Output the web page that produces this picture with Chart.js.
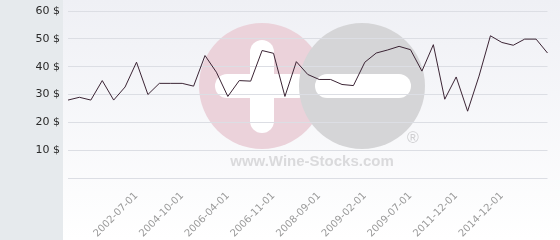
<!DOCTYPE html>
<html>
<head>
<meta charset="utf-8">
<script src="https://cdn.jsdelivr.net/npm/chart.js@4"></script>
<style>
  html, body { margin: 0; padding: 0; background: #fff; }
  #priceChart { display: block; }
</style>
</head>
<body>
<canvas id="priceChart" width="560" height="240"></canvas>
<script>
// x categories, only some carry a visible date
const dates = [
  '', '', '', '', '', '', '2002-07-01', '', '', '',
  '2004-10-01', '', '', '', '2006-04-01', '', '', '', '2006-11-01', '',
  '', '', '2008-09-01', '', '', '', '2009-02-01', '', '', '',
  '2009-07-01', '', '', '', '2011-12-01', '', '', '', '2014-12-01', '',
  '', '', ''
];

const prices = [
  28, 29, 28, 35, 28, 32.7, 41.6, 30, 34, 34,
  34, 33, 44, 38, 29.3, 35, 34.8, 45.8, 44.8, 29.3,
  41.8, 37.2, 35.4, 35.4, 33.6, 33.2, 41.6, 44.9, 46, 47.3,
  46.1, 38.4, 47.9, 28.3, 36.3, 24, 36.6, 51.1, 48.7, 47.7,
  49.9, 49.9, 44.9
];

const yTicks = [0, 10, 20, 30, 40, 50, 60];

function roundBar(c, x, y, w, h, r) {
  c.beginPath();
  c.roundRect(x, y, w, h, r);
  c.fill();
}

// panel, background gradient and the faded logo behind the grid
const backdrop = {
  id: 'backdrop',
  beforeDraw(chart) {
    const c = chart.ctx;
    c.save();
    c.fillStyle = '#e6eaed';
    c.fillRect(0, 0, 63, 240);
    const g = c.createLinearGradient(0, 0, 0, 240);
    g.addColorStop(0, '#eff0f5');
    g.addColorStop(1, '#ffffff');
    c.fillStyle = g;
    c.fillRect(63, 0, 497, 240);

    c.fillStyle = '#ebd2da';
    c.beginPath(); c.arc(262, 86, 63, 0, Math.PI * 2); c.fill();
    c.fillStyle = '#ffffff';
    roundBar(c, 250, 40, 24, 93, 12);
    roundBar(c, 215, 74, 95, 24, 12);

    c.fillStyle = '#d5d5d7';
    c.beginPath(); c.arc(362, 86, 63, 0, Math.PI * 2); c.fill();
    c.fillStyle = '#ffffff';
    roundBar(c, 315, 74, 96, 24, 12);

    c.fillStyle = '#dadadc';
    c.font = 'bold 15px "Liberation Sans", Arial, sans-serif';
    c.textAlign = 'center';
    c.textBaseline = 'middle';
    c.fillText('www.Wine-Stocks.com', 312, 162);
    c.font = '16px "Liberation Sans", Arial, sans-serif';
    c.fillStyle = '#cfcfd1';
    c.fillText('®', 413, 139);
    c.restore();
  }
};

new Chart(document.getElementById('priceChart'), {
  type: 'line',
  data: {
    labels: dates,
    datasets: [{
      data: prices,
      borderColor: '#3b2434',
      borderWidth: 1,
      pointRadius: 0,
      tension: 0,
      fill: false
    }]
  },
  options: {
    responsive: false,
    animation: false,
    layout: { padding: { top: 0, right: 6, left: 0, bottom: 0 } },
    plugins: { legend: { display: false }, tooltip: { enabled: false } },
    scales: {
      x: {
        grid: { display: false },
        border: { display: false },
        ticks: {
          autoSkip: false,
          minRotation: 45,
          maxRotation: 45,
          padding: 4,
          color: '#9a9a9a',
          font: { family: '"DejaVu Sans"', size: 10 }
        },
        afterFit(scale) { scale.height = 62; }
      },
      y: {
        min: yTicks[0],
        max: yTicks[yTicks.length - 1],
        afterBuildTicks(scale) { scale.ticks = yTicks.map(v => ({ value: v })); },
        grid: { color: '#dcdee4', drawTicks: false },
        border: { display: false },
        ticks: {
          padding: 8,
          color: '#2a2a2a',
          font: { family: '"DejaVu Sans"', size: 11 },
          callback: v => v === 0 ? '' : v + ' $'
        },
        afterFit(scale) {
          scale.width = 68;
          scale.paddingTop = 11;
        }
      }
    }
  },
  plugins: [backdrop]
});
</script>
</body>
</html>
